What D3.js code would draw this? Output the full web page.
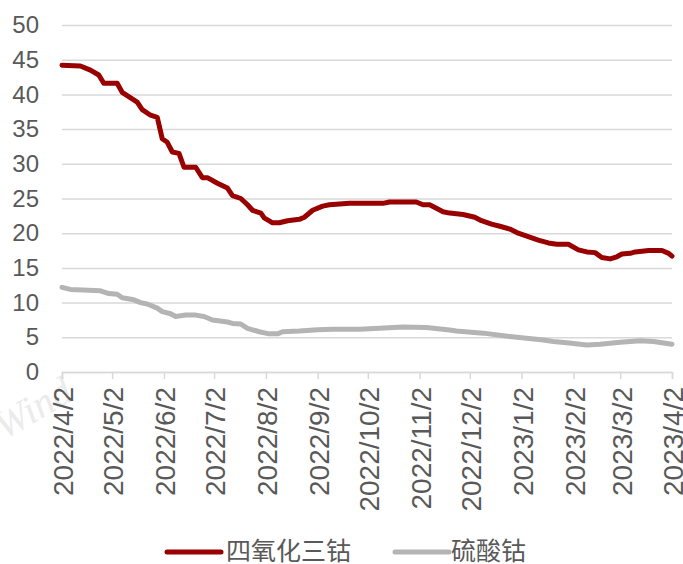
<!DOCTYPE html>
<html>
<head>
<meta charset="utf-8">
<script src="https://cdn.jsdelivr.net/npm/d3@7/dist/d3.min.js"></script>
<style>
  html, body { margin: 0; padding: 0; background: #fff; }
  svg { display: block; }
</style>
</head>
<body>
<svg id="chart" width="683" height="564"></svg>
<script>
// 四氧化三钴 daily price series (万元/吨)
const co3o4Dates = ["2022-04-02","2022-04-13","2022-04-19","2022-04-24","2022-04-27","2022-05-05","2022-05-08","2022-05-17","2022-05-20","2022-05-25","2022-05-29","2022-06-01","2022-06-04","2022-06-07","2022-06-11","2022-06-14","2022-06-21","2022-06-25","2022-06-28","2022-07-04","2022-07-10","2022-07-13","2022-07-18","2022-07-22","2022-07-25","2022-07-30","2022-08-01","2022-08-06","2022-08-10","2022-08-15","2022-08-22","2022-08-25","2022-08-30","2022-09-05","2022-09-09","2022-09-15","2022-09-21","2022-10-11","2022-10-15","2022-10-31","2022-11-04","2022-11-08","2022-11-12","2022-11-16","2022-11-20","2022-11-28","2022-12-05","2022-12-09","2022-12-15","2022-12-20","2022-12-26","2022-12-31","2023-01-06","2023-01-12","2023-01-18","2023-01-23","2023-01-30","2023-02-05","2023-02-10","2023-02-15","2023-02-19","2023-02-24","2023-02-28","2023-03-03","2023-03-08","2023-03-11","2023-03-19","2023-03-27","2023-03-31","2023-04-02"];
const co3o4Values = [44.2,44.1,43.5,42.8,41.6,41.6,40.3,38.9,37.8,37.0,36.7,33.6,33.1,31.7,31.5,29.5,29.5,28.0,28.0,27.2,26.5,25.4,25.0,24.1,23.3,22.9,22.2,21.5,21.5,21.8,22.0,22.3,23.3,23.9,24.1,24.2,24.3,24.3,24.5,24.5,24.1,24.1,23.6,23.1,22.9,22.7,22.3,21.8,21.3,21.0,20.6,20.0,19.5,19.0,18.6,18.4,18.4,17.6,17.3,17.2,16.5,16.3,16.6,17.0,17.1,17.3,17.5,17.5,17.1,16.7];

// 硫酸钴 daily price series (万元/吨)
const coso4Dates = ["2022-04-02","2022-04-07","2022-04-25","2022-04-30","2022-05-05","2022-05-08","2022-05-15","2022-05-19","2022-05-23","2022-05-29","2022-06-01","2022-06-06","2022-06-09","2022-06-15","2022-06-21","2022-06-26","2022-07-01","2022-07-10","2022-07-13","2022-07-18","2022-07-22","2022-07-29","2022-08-04","2022-08-09","2022-08-12","2022-08-22","2022-09-02","2022-09-11","2022-09-27","2022-10-09","2022-10-23","2022-11-06","2022-11-20","2022-11-24","2022-12-10","2022-12-26","2023-01-15","2023-01-21","2023-01-29","2023-02-10","2023-02-18","2023-03-02","2023-03-14","2023-03-22","2023-04-02"];
const coso4Values = [12.2,11.9,11.7,11.3,11.2,10.7,10.4,10.0,9.8,9.2,8.7,8.4,8.0,8.2,8.2,8.0,7.5,7.2,7.0,6.9,6.3,5.8,5.5,5.5,5.8,5.9,6.1,6.15,6.15,6.3,6.5,6.4,6.05,5.9,5.6,5.1,4.6,4.4,4.2,3.9,4.0,4.3,4.5,4.4,4.0];

// Axis ticks
const xTickDates = ["2022-04-02","2022-05-02","2022-06-02","2022-07-02","2022-08-02","2022-09-02","2022-10-02","2022-11-02","2022-12-02","2023-01-02","2023-02-02","2023-03-02","2023-04-02"];
const yTicks = [0,5,10,15,20,25,30,35,40,45,50];

const seriesNames = ["四氧化三钴", "硫酸钴"];
const seriesColors = ["#990000", "#b4b4b4"];

const parse = d3.timeParse("%Y-%m-%d");
const fmt = d3.timeFormat("%Y/%-m/%-d");

const series = [
  co3o4Dates.map((d, i) => ({ date: parse(d), value: co3o4Values[i] })),
  coso4Dates.map((d, i) => ({ date: parse(d), value: coso4Values[i] }))
];

const svg = d3.select("#chart");
const plotLeft = 62, plotRight = 672, plotTop = 25, plotBottom = 372;
const labelColor = "#595959";
const gridColor = "#d9d9d9";

const x = d3.scaleTime()
  .domain([parse(xTickDates[0]), parse(xTickDates[xTickDates.length - 1])])
  .range([plotLeft, plotRight]);
const y = d3.scaleLinear().domain([0, 50]).range([plotBottom, plotTop]);

// Watermark
svg.append("text")
  .attr("transform", "translate(4,440) rotate(-30)")
  .attr("font-family", "'Liberation Serif', 'DejaVu Serif', serif")
  .attr("font-style", "italic")
  .attr("font-size", 40)
  .attr("fill", "#ebebeb")
  .text("Wind");

// Horizontal grid lines and y labels
const yAxis = d3.axisLeft(y)
  .tickValues(yTicks)
  .tickSize(-(plotRight - plotLeft))
  .tickPadding(24)
  .tickFormat(d3.format("d"));
const yg = svg.append("g").attr("transform", `translate(${plotLeft},0)`).call(yAxis);
yg.select(".domain").remove();
yg.selectAll(".tick line").attr("stroke", gridColor).attr("stroke-width", 1.5);
yg.selectAll(".tick text")
  .attr("fill", labelColor)
  .attr("font-family", "'Liberation Sans', Arial, sans-serif")
  .attr("font-size", 24)
  .attr("x", -23);

// Bottom axis with month ticks
const xAxis = d3.axisBottom(x)
  .tickValues(xTickDates.map(parse))
  .tickSize(7)
  .tickFormat(fmt);
const xg = svg.append("g").attr("transform", `translate(0,${plotBottom})`).call(xAxis);
xg.select(".domain").attr("stroke", gridColor).attr("stroke-width", 1.5);
xg.selectAll(".tick line").attr("stroke", gridColor).attr("stroke-width", 1.5);
xg.selectAll(".tick text")
  .attr("fill", labelColor)
  .attr("font-family", "'Liberation Sans', Arial, sans-serif")
  .attr("font-size", 28)
  .attr("text-anchor", "end")
  .attr("dy", "0.35em")
  .attr("transform", "translate(1,15) rotate(-90)")
  .attr("x", 0)
  .attr("y", 0);

// Price lines
const line = d3.line()
  .x(d => x(d.date))
  .y(d => y(d.value));

series.slice().reverse().forEach((s, idx) => {
  const i = series.length - 1 - idx;
  svg.append("path")
    .datum(s)
    .attr("fill", "none")
    .attr("stroke", seriesColors[i])
    .attr("stroke-width", 5)
    .attr("stroke-linejoin", "round")
    .attr("stroke-linecap", "round")
    .attr("d", line);
});

// Legend
const legend = svg.append("g").attr("transform", "translate(0,552)");
const legendItems = [{ x: 167, tx: 226 }, { x: 395, tx: 451 }];
legendItems.forEach((p, i) => {
  legend.append("line")
    .attr("x1", p.x).attr("x2", p.x + 54)
    .attr("y1", 0).attr("y2", 0)
    .attr("stroke", seriesColors[i])
    .attr("stroke-width", 5)
    .attr("stroke-linecap", "round");
  legend.append("text")
    .attr("x", p.tx)
    .attr("y", 0)
    .attr("dy", "0.3em")
    .attr("fill", labelColor)
    .attr("font-family", "'Noto Sans CJK SC', sans-serif")
    .attr("font-size", 25)
    .text(seriesNames[i]);
});
</script>
</body>
</html>
